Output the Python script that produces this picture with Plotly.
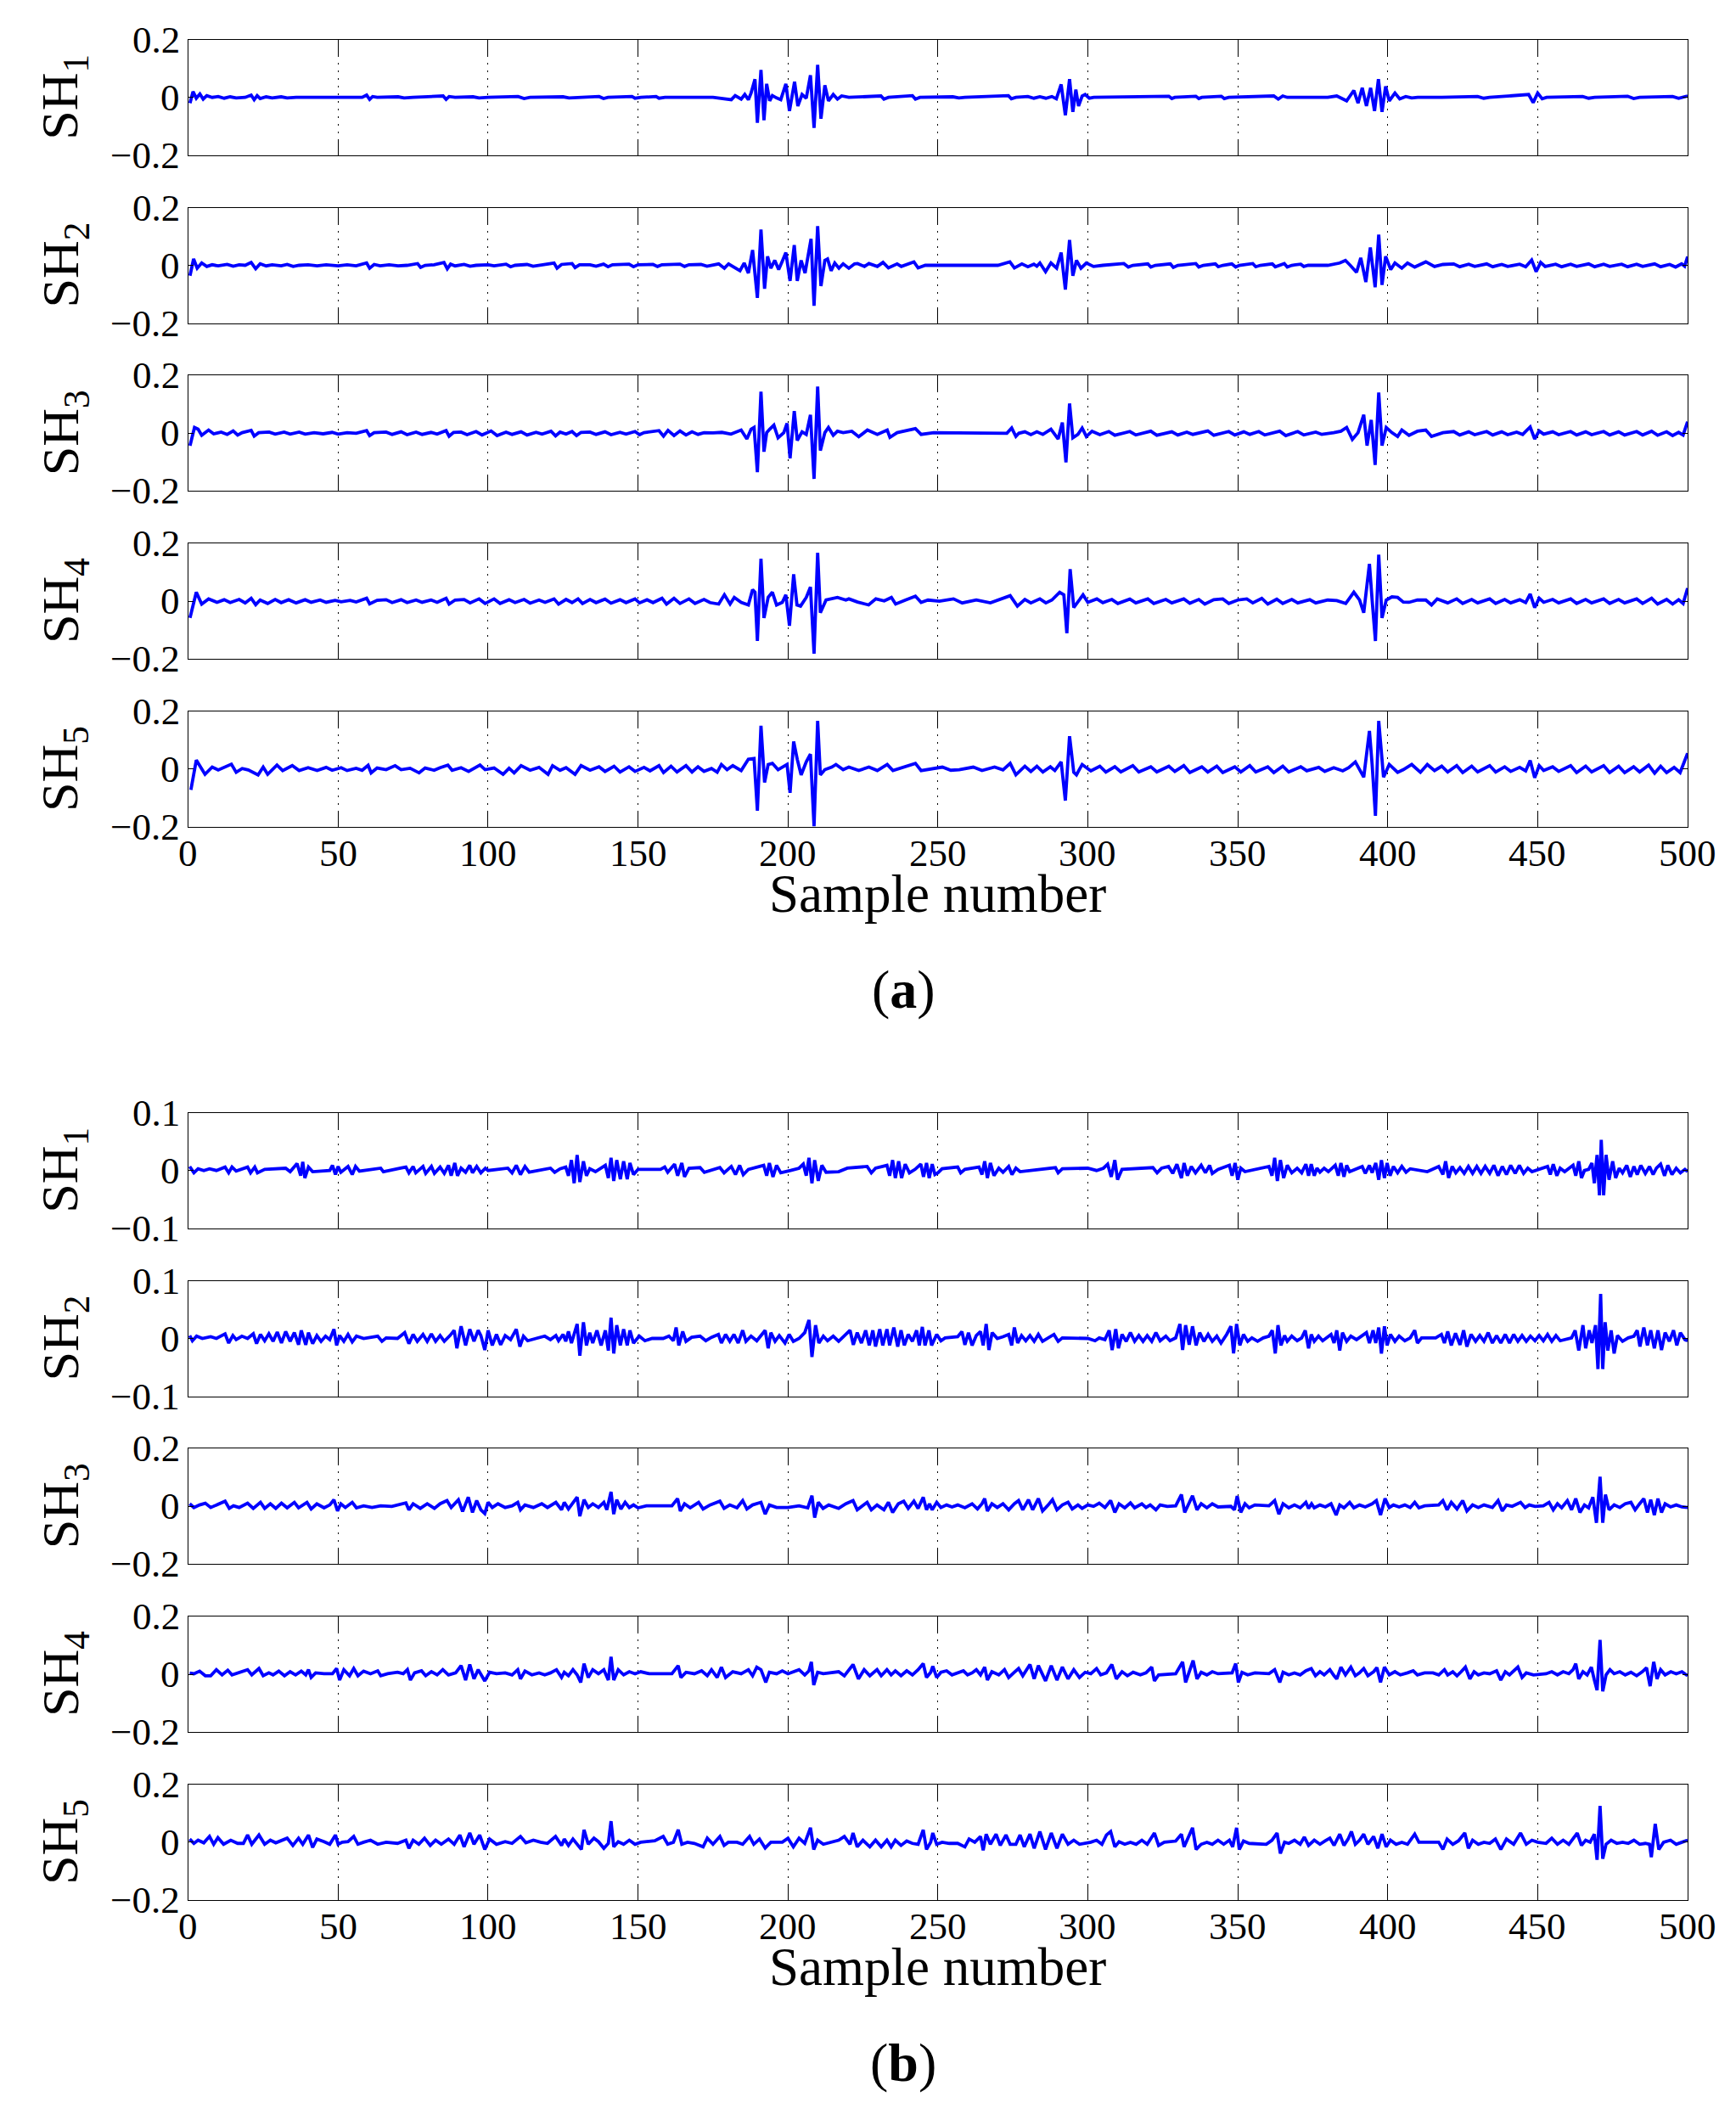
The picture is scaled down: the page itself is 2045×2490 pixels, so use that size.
import plotly.graph_objects as go

# ---------------- data (sample number, value x 1000) ----------------
SH1_a = [(0.6,-20),(1.6,20),(2.7,-3),(3.9,12),(5.0,-6),(6.2,6),(8,0),(10,3),(12,-3),(14,2),(16,-2),(19,0),(21,8),(22,-8),(23,6),(24,-4),(26,2),(28,-2),(31,2),(33,-2),(36,0),(58,0),(59.5,8),(60.5,-7),(61.5,3),(63,0),(70,2),(72,-2),(75,0),(85,5),(86,-7),(87,3),(89,0),(95,2),(97,-2),(100,0),(110,3),(112,-4),(114,0),(125,2),(127,-2),(137,3),(138.5,-4),(140,0),(148,3),(149,-3),(151,0),(156,3),(157,-3),(159,0),(175,0),(181.1,-8),(182.4,6),(183.5,0),(184.4,-6),(185.6,10),(186.8,-8),(187.7,15),(189.0,63),(189.8,-88),(191.0,95),(192.0,-79),(192.9,47),(193.9,-12),(194.8,6),(196.2,-2),(197.6,-8),(199.3,47),(200.5,-47),(202.2,54),(203.3,-30),(204.7,10),(206.1,-3),(207.5,77),(208.7,-106),(209.9,113),(211.0,-74),(212.3,42),(213.5,-12),(215.1,10),(216.5,-6),(217.9,5),(220.3,0),(231,5),(232,-6),(233.5,0),(241.5,6),(242.5,-6),(244,0),(255,2),(257,-2),(259,0),(273.5,6),(274.5,-5),(276,0),(280,3),(282,-3),(284,2),(286,-3),(288,3),(289.5,-5),(291.1,45),(292.5,-62),(293.9,63),(295.0,-50),(296.0,27),(296.9,-30),(298.1,5),(299.1,10),(300.5,-3),(302,0),(327,4),(328,-4),(329,0),(336,4),(337,-4),(338,0),(344.5,4),(345.5,-4),(347,0),(362,5),(363.5,-6),(365,5),(366.5,0),(380,0),(383,5),(384.5,-3),(386.3,-12),(388.7,24),(390.1,-20),(391.5,33),(392.9,-30),(394.3,33),(395.6,-47),(396.9,63),(398.1,-50),(399.3,38),(400.5,-12),(402.4,15),(404,-5),(406,3),(408,-2),(410,0),(418,0),(430,3),(432,-3),(434,0),(447,10),(448.5,-18),(450,15),(451.5,-5),(453,0),(465,3),(467,-3),(469,0),(480,4),(482,-4),(484,0),(495,3),(497,-3),(500,5)]

SH2_a = [(0.6,-36),(1.8,22),(3.0,-10),(4.5,8),(6.2,-4),(8,2),(10,-2),(13,3),(15,-3),(17,2),(19,0),(21,10),(22.5,-12),(24,5),(26,-2),(28,2),(31,-2),(33,3),(35,-4),(37,0),(40,2),(43,-2),(46,2),(50,-2),(53,2),(56,-2),(59.5,8),(60.5,-10),(62,3),(64,-2),(67,2),(70,-2),(73,0),(76.5,6),(77.5,-7),(79,0),(82,2),(85.3,10),(86.4,-12),(87.5,4),(89,-2),(92,3),(94,-3),(96,0),(100,2),(102,-2),(106,4),(107.5,-5),(109,0),(113,3),(115,-3),(117,0),(122,8),(123,-10),(124.5,3),(128,6),(129,-8),(130.5,2),(134,2),(136,-3),(138.5,4),(140,-5),(141.5,2),(147,4),(148.5,-5),(150,2),(155,3),(156.5,-4),(158,2),(164,4),(165.5,-4),(167,2),(171,3),(173,-3),(175,2),(176.9,5),(178.8,-10),(180.2,5),(181.6,-4),(184.0,-19),(185.4,8),(186.8,-27),(188.2,53),(189.8,-113),(191.0,124),(192.2,-81),(193.2,31),(194.3,-10),(195.6,17),(196.9,-15),(198.1,14),(199.3,44),(200.7,-54),(202.1,70),(203.1,-54),(204.4,17),(205.7,-27),(206.8,35),(207.7,92),(208.7,-140),(209.9,136),(211.0,-72),(212.3,17),(213.2,22),(214.4,-19),(215.6,8),(217.0,-10),(218.4,5),(220.3,-10),(222.2,5),(223.2,6),(225.5,-4),(227,6),(229.8,-4),(231.7,10),(233.5,-9),(236.4,5),(237.8,-4),(242,12),(243.4,-9),(245.8,0),(270,0),(274,12),(275.5,-9),(277,0),(278,5),(280,-5),(282,4),(283,-3),(284.0,8),(285.9,-22),(287.7,8),(289.6,-10),(291.1,44),(292.5,-84),(293.9,88),(295.0,-36),(296.2,17),(297.7,-10),(299.5,8),(301.9,-4),(305,0),(312,6),(313.5,-6),(315,0),(320,5),(321,-6),(322.5,0),(327.5,5),(328.5,-7),(330,0),(336,6),(337,-6),(338.5,0),(342.5,5),(343.5,-5),(345,0),(348,5),(349.3,-6),(350.5,0),(355,6),(356,-5),(357.5,0),(361.5,5),(362.5,-5),(364,0),(365.5,6),(366.5,-6),(368,0),(371,4),(372,-4),(373.5,0),(380,0),(384.0,8),(385.9,17),(387.5,0),(389.6,-24),(391.0,26),(392.7,-58),(394.2,62),(395.8,-76),(397.0,106),(398.1,-68),(399.3,31),(401.0,-15),(402.4,8),(404.7,-10),(406.6,8),(409.0,-6),(412.7,12),(415.6,-4),(418.4,3),(422,5),(424,-5),(427,4),(429,-4),(433,5),(435,-5),(438,3),(440,-4),(444,4),(446,-5),(448,18),(449.5,-22),(451,10),(452.5,-4),(456,4),(458,-5),(461,4),(463,-4),(467,5),(469,-5),(472,4),(474,-4),(478,4),(480,-5),(483,4),(485,-4),(489,5),(491,-5),(494,3),(496,-6),(498,5),(499,-3),(500,30)]

SH3_a = [(0.6,-43),(2.1,20),(3.3,14),(4.5,-7),(6.8,11),(8.5,-2),(11,4),(13,-4),(15,8),(16.5,-6),(18,2),(21,10),(22,-10),(23.5,2),(27,4),(29,-3),(32,4),(34,-3),(37,4),(39,-3),(42,2),(45,-2),(48,3),(50,-3),(53,2),(56,0),(59.5,9),(60.5,-8),(62,2),(66,4),(68,-4),(71,5),(73,-5),(76,4),(78,-4),(81,3),(83,-3),(86,9),(87,-10),(88.5,3),(91,4),(93,-5),(96,6),(98,-6),(101,8),(103,-8),(106,4),(108,-4),(111,5),(113,-6),(116,3),(118,-3),(121,7),(122.5,-9),(124,4),(126,-3),(128,6),(129.5,-8),(131,3),(134,4),(136,-4),(139,5),(141,-5),(144,3),(146,-3),(149,6),(150.5,-5),(152,2),(157,9),(158.5,-10),(160,10),(162,-8),(164,8),(166,-6),(168,5),(170,-4),(172,2),(175,1),(178,3),(181,-3),(184.4,11),(186.3,-20),(187.7,14),(188.7,20),(189.8,-135),(191.0,144),(192.0,-64),(192.9,2),(193.9,14),(195.3,28),(196.7,-16),(198.6,2),(199.7,34),(200.7,-87),(202.1,77),(203.1,-25),(204.7,5),(206.1,-4),(207.5,64),(208.7,-158),(209.9,162),(210.8,-60),(212.3,2),(213.5,20),(215.1,-7),(216.5,7),(218.4,2),(221.3,7),(223.6,-12),(226.5,11),(229.8,-4),(233.1,11),(234,-14),(236.4,2),(242.5,16),(244.4,-4),(248.6,2),(273,0),(274.6,18),(276,-11),(277,0),(279,5),(281,-5),(283,5),(285,-4),(287.7,14),(290.1,-20),(291.5,37),(292.7,-101),(293.9,103),(295.0,-16),(296.7,-4),(298.1,18),(299.5,-11),(301.4,7),(304,-5),(307,6),(309,-7),(314,6),(316,-6),(321,7),(323,-7),(328,5),(330,-6),(333,4),(335,-4),(340,8),(342,-7),(347,6),(349,-6),(352,5),(354,-4),(357,6),(359,-6),(364,7),(366,-8),(370,6),(372,-6),(376,4),(378,-4),(382,2),(384.4,7),(386.3,20),(388.2,-21),(390.1,2),(392.0,64),(393.1,-43),(394.5,46),(395.8,-110),(397.0,141),(398.1,-43),(399.5,20),(401.4,2),(403.3,-11),(404.7,11),(407.1,-7),(409.9,7),(412.7,11),(414.6,-11),(418.4,2),(422,6),(424,-6),(427,5),(429,-5),(433,6),(435,-6),(438,5),(440,-5),(443,4),(445,-4),(447.5,22),(449,-20),(450.5,8),(452,-3),(455,5),(457,-5),(461,6),(463,-6),(466,5),(468,-5),(472,6),(474,-6),(477,5),(479,-6),(483,6),(485,-6),(488,7),(490,-7),(493,5),(495,-8),(497,3),(498.5,-6),(500,40)]

SH4_a = [(0.6,-58),(2.7,31),(4.5,-10),(6.8,8),(9.6,-4),(12,5),(14,-5),(17,6),(19,-6),(21,10),(22.5,-12),(24,4),(26.5,-8),(29,6),(31,-5),(33.5,5),(36,-6),(39,5),(41,-4),(44,4),(46,-4),(49,3),(51,-2),(54,3),(56,-3),(59.5,10),(60.5,-9),(63,3),(66,5),(68,-5),(71,5),(73,-5),(76,4),(78,-4),(81,4),(83,-4),(86,10),(87,-10),(89,4),(92,6),(94,-6),(97,8),(99,-8),(102,8),(104,-8),(107,5),(109,-5),(112,6),(114,-7),(117,4),(119,-4),(122,8),(123.5,-10),(126,6),(128,-5),(130,8),(131.5,-8),(134,6),(136,-5),(139,7),(141,-7),(144,5),(146,-5),(149,8),(150.5,-6),(153,5),(155,-5),(158,10),(159.5,-10),(162,10),(164,-8),(167,8),(169,-8),(172,6),(174,-5),(176.9,-10),(178.8,22),(180.7,-10),(182.1,13),(184.4,-4),(186.8,-13),(188.2,40),(189.0,31),(189.8,-138),(191.0,147),(192.0,-58),(193.4,13),(194.8,31),(196.2,-13),(198.1,-4),(199.3,22),(200.5,-85),(201.9,93),(203.0,-13),(204.2,-17),(206.1,13),(207.5,49),(208.7,-182),(209.9,168),(210.8,-40),(212.7,4),(214.6,8),(216.5,13),(219.3,4),(220.3,8),(223.2,-3),(226.9,-13),(229.3,8),(232.1,1),(234.5,13),(235.9,-10),(239.2,4),(242.5,17),(244.4,-4),(246.7,4),(250.5,0),(255.2,8),(258.1,-6),(262.8,4),(267.5,-6),(270.3,4),(274.1,19),(276.5,-17),(279,6),(281,-6),(284,8),(286,-6),(288,4),(290.6,31),(292.0,22),(293.0,-111),(294.1,111),(295.3,-22),(296.7,-4),(298.4,22),(300.0,-4),(303,8),(305,-5),(308,6),(310,-8),(314,7),(316,-6),(320,8),(322,-8),(326,6),(328,-6),(332,8),(334,-7),(337,6),(339,-10),(342,5),(345,8),(347,-8),(350,4),(353,8),(355,-6),(358,10),(360,-10),(363,7),(365,-8),(368,6),(370,-6),(374,5),(376,-6),(380,4),(383,2),(386,-8),(388.7,31),(390.6,4),(392.0,-40),(393.9,129),(394.8,4),(395.9,-138),(397.0,161),(398.1,-58),(399.5,4),(401.4,15),(403.3,13),(405.2,-3),(407.1,-4),(409.9,4),(412.7,4),(414.6,-13),(416.5,8),(420,-6),(423,8),(425,-8),(428,6),(430,-6),(434,8),(436,-8),(439,6),(441,-6),(444,5),(446,-5),(447.5,25),(449,-22),(450.5,10),(452,-4),(455,6),(457,-6),(461,8),(463,-8),(466,6),(468,-6),(472,8),(474,-8),(477,6),(479,-6),(483,8),(485,-8),(488,10),(490,-10),(493,6),(495,-10),(497,5),(498.5,-8),(500,45)]

SH5_a = [(0.9,-72),(2.7,31),(5.6,-18),(8,7),(10,-3),(12,7),(14.4,17),(16,-11),(18,2),(20,-3),(23.3,-20),(25,7),(26.5,-18),(29.6,14),(31.5,-5),(34.7,12),(37,-5),(40,5),(43,-5),(46,6),(48,-4),(51,5),(53,-5),(56,3),(58,-4),(60,13),(61,-13),(63,4),(66,-2),(69,12),(71,-2),(74,3),(77,-13),(79,4),(82,-4),(84,5),(86.6,14),(88,-4),(91,5),(93.5,-8),(97.3,14),(99,-2),(102,4),(105,-18),(107,3),(108.7,-13),(111,12),(114,-4),(117,6),(120,-18),(121.5,12),(124,-4),(126,5),(129,-18),(131,12),(134,-4),(137,8),(139,-8),(142,10),(144,-10),(147,8),(149,-8),(152,6),(154,-6),(157,12),(158.5,-12),(161,10),(163,-10),(166,12),(168,-10),(170,8),(172,-8),(174.5,2),(176.4,-11),(177.8,16),(179.7,-2),(181.6,12),(184.4,-5),(186.8,34),(188.7,37),(189.8,-144),(191.0,150),(192.2,-46),(193.4,16),(194.8,20),(196.7,-2),(199.7,16),(200.7,-82),(201.9,96),(203.1,34),(204.4,-20),(206.1,25),(207.5,52),(208.7,-198),(209.9,167),(210.8,-20),(212.3,-2),(214.6,7),(216.0,16),(218.4,-2),(220.3,7),(223.6,-5),(227,7),(229.8,-5),(233.1,16),(235,-5),(238.3,7),(242.5,20),(244.4,-5),(248.6,2),(251.5,7),(254.3,-4),(257.1,-2),(261.8,7),(264.7,-5),(268.9,7),(271.7,-3),(274.1,20),(276,-20),(279,10),(281,-8),(283,10),(285,-10),(287.5,8),(289,-5),(291.1,25),(292.5,-109),(293.9,114),(295.3,-11),(296.2,-20),(298.1,16),(301,-6),(304,10),(306,-10),(309,8),(311,-10),(315,12),(317,-10),(321,8),(323,-10),(327,10),(329,-8),(332,12),(334,-12),(338,8),(340,-10),(343,10),(345,-12),(349,8),(351,-10),(354,12),(356,-10),(360,8),(362,-12),(365,10),(367,-10),(371,8),(373,-6),(377,6),(379,-8),(382,5),(385,-6),(387,5),(389.2,25),(392.0,-28),(393.9,132),(394.8,16),(395.9,-162),(397.0,167),(398.6,-28),(400.5,16),(403.3,-11),(405.2,-2),(408.0,16),(410.9,-11),(413.2,16),(415.6,-5),(418,10),(420,-10),(423,12),(425,-12),(428,10),(430,-10),(434,12),(436,-10),(439,8),(441,-8),(444,6),(446,-6),(447.5,30),(449,-30),(450.5,12),(452,-5),(455,8),(457,-8),(461,12),(463,-12),(466,10),(468,-10),(472,12),(474,-12),(477,10),(479,-12),(482,8),(484,-10),(487,14),(489,-14),(491,10),(493,-12),(495.5,6),(497.5,-12),(500,55)]

SH1_b = [(0.5,7),(1.9,-4),(3.3,3),(5.2,0),(7.1,3),(9.4,0),(12.3,6),(13.5,-4),(14.6,6),(16.0,-1),(19.8,6),(20.8,-4),(22.2,6),(23.1,-4),(25.5,2),(32.5,4),(34.0,-2),(36.3,12),(37.5,-9),(38.2,15),(38.9,-13),(40.1,6),(41.5,-2),(47.2,0),(48.1,9),(49.1,-7),(50.0,7),(50.9,-3),(53.3,7),(54.7,-7),(55.8,7),(57.1,-1),(64.2,4),(65.1,-2),(70.8,4),(72.6,6),(73.6,-4),(75.0,7),(75.9,-4),(78.3,7),(79.2,-5),(81.1,7),(82.1,-5),(84.0,6),(85.4,-5),(86.8,9),(87.7,-9),(88.9,13),(89.8,-9),(91.0,4),(92.5,-3),(93.9,9),(94.8,-4),(96.2,7),(97.6,-4),(99.1,4),(100.0,0),(106.6,4),(108.0,-4),(109.4,9),(110.8,-7),(112.3,7),(113.7,-3),(120.8,4),(122.2,-3),(124.0,3),(125.9,6),(126.8,-9),(127.8,18),(128.7,-22),(129.7,27),(130.6,-20),(131.8,16),(132.8,-9),(133.9,3),(135.8,-2),(139.1,9),(140.1,-13),(141.0,22),(141.9,-18),(142.9,18),(144.1,-15),(145.2,16),(146.4,-15),(147.3,13),(148.5,-7),(150.0,2),(157.5,2),(158.9,6),(159.9,-3),(162.2,11),(163.2,-9),(164.6,13),(165.5,-11),(167.0,4),(170.7,5),(172.1,-3),(177.3,5),(178.7,-4),(181.1,7),(182.5,-7),(183.9,9),(185.1,-7),(186.8,2),(191.9,9),(192.9,-9),(193.8,13),(195.0,-11),(196.2,9),(197.6,-4),(200.9,0),(203.7,4),(205.1,11),(206.1,-9),(207.0,22),(208.0,-22),(208.9,18),(210.1,-18),(211.3,9),(212.7,-3),(216.9,-2),(219.8,4),(226.4,7),(227.8,-4),(229.2,4),(233.0,9),(233.9,-9),(234.9,18),(235.8,-13),(236.9,16),(237.9,-13),(239.1,11),(240.5,-4),(242.4,2),(244.3,11),(245.2,-11),(246.2,13),(247.1,-13),(248.1,11),(249.0,-7),(250.0,-4),(251.4,3),(256.6,6),(257.6,-4),(259.0,2),(263.7,6),(264.7,-7),(265.6,16),(266.5,-13),(267.5,13),(268.7,-9),(270.3,4),(271.7,-3),(273.6,7),(274.7,-7),(276.0,4),(277.4,-2),(289.2,5),(290.1,-4),(291.5,3),(300.0,4),(302.9,0),(305.2,4),(306.6,11),(307.8,-11),(309.0,18),(309.9,-16),(311.4,2),(321.7,5),(323.1,-4),(324.6,4),(326.9,7),(328.3,-5),(329.7,11),(331.2,-13),(332.1,13),(333.2,-9),(334.5,7),(335.9,-4),(337.8,9),(339.2,-4),(340.6,9),(341.5,-5),(343.4,2),(347.2,9),(348.1,-9),(349.1,13),(350.0,-16),(351.0,4),(352.4,-2),(360.4,7),(361.4,-9),(362.3,22),(363.2,-18),(364.2,18),(365.3,-13),(366.5,9),(368.0,-4),(369.8,4),(371.3,-4),(372.7,11),(373.6,-9),(374.5,11),(375.5,-9),(376.4,4),(377.4,-3),(378.8,4),(380.2,-2),(382.5,9),(383.5,-9),(384.4,13),(385.4,-11),(386.3,9),(387.3,-2),(391.5,7),(392.5,-5),(393.9,9),(394.8,-4),(396.0,13),(397.0,-16),(397.9,18),(398.9,-13),(399.8,13),(400.8,-9),(401.9,7),(403.3,-4),(404.7,7),(406.1,-3),(407.5,3),(413.2,-2),(417.0,7),(418.4,-7),(419.3,16),(420.3,-13),(421.5,7),(422.7,-4),(424.1,5),(425.5,-5),(426.9,7),(428.3,-5),(429.7,7),(431.1,-5),(432.5,7),(434.0,-5),(435.4,9),(436.8,-9),(438.2,7),(439.6,-7),(441.0,9),(442.5,-5),(443.9,9),(445.3,-5),(446.7,4),(448.1,-2),(453.3,7),(454.2,-7),(455.2,11),(456.4,-9),(457.5,4),(459.0,-2),(461.8,9),(462.7,-9),(463.7,16),(464.6,-13),(465.6,0),(467.0,2),(468.1,13),(468.9,-22),(469.8,27),(470.6,-43),(471.2,53),(472.0,-43),(472.8,27),(473.8,-16),(475.0,16),(476.0,-13),(477.2,4),(478.3,-4),(479.7,9),(480.9,-11),(482.1,7),(483.2,-7),(484.4,9),(485.9,-5),(487.3,7),(488.5,-7),(489.6,4),(491.0,11),(492.3,-9),(493.4,9),(494.8,-7),(496.2,4),(497.6,-4),(499.1,2),(500.0,-2)]

SH2_b = [(0.5,5),(1.4,-4),(2.8,4),(4.7,0),(7.5,3),(9.4,0),(12.3,8),(13.5,-8),(14.9,5),(16.0,-2),(17.9,4),(19.8,0),(21.7,8),(22.8,-9),(24.1,7),(25.5,-4),(26.9,8),(28.3,-5),(29.7,11),(31.1,-8),(32.5,12),(34.0,-5),(35.4,10),(36.8,-11),(37.7,14),(39.2,-11),(40.1,10),(41.5,-9),(42.9,5),(44.3,-5),(45.8,4),(47.2,-2),(48.6,16),(49.5,-12),(50.5,5),(51.9,-5),(53.3,7),(54.7,-6),(56.1,4),(58.5,0),(63.2,4),(64.6,-5),(66.0,1),(69.8,0),(72.2,10),(73.6,-9),(75.0,7),(76.4,-5),(78.3,7),(79.7,-5),(81.1,8),(82.5,-5),(84.0,5),(85.4,-5),(87.3,5),(88.7,14),(89.6,-17),(91.0,21),(92.5,-12),(93.9,16),(95.3,-5),(96.7,14),(97.6,5),(98.9,-20),(100.0,14),(101.4,-12),(102.8,7),(104.2,-11),(105.7,5),(107.5,-2),(109.4,16),(110.6,-14),(111.8,4),(113.2,-4),(116.0,0),(118.9,4),(120.8,-2),(122.6,5),(123.5,-4),(125.0,7),(125.9,-5),(126.8,12),(127.8,-8),(128.7,7),(129.7,25),(130.6,-30),(131.8,28),(132.8,-12),(133.9,10),(134.9,-8),(136.3,14),(137.7,-12),(139.1,14),(140.1,-21),(141.0,36),(141.9,-26),(142.9,23),(144.1,-12),(145.2,16),(146.4,-12),(147.3,14),(148.5,-8),(150.4,4),(152.3,-4),(154.7,0),(158.4,0),(160.3,4),(161.8,-4),(162.7,19),(163.6,-12),(164.9,12),(166.0,-5),(167.9,2),(170.7,4),(172.6,-4),(174.5,2),(176.8,7),(177.8,-8),(179.2,7),(180.6,-5),(182.0,7),(183.4,-8),(184.9,14),(186.0,-5),(187.7,4),(189.6,-4),(192.4,14),(193.4,-17),(194.3,10),(195.7,-5),(197.1,5),(199.0,-8),(200.4,7),(201.8,-5),(203.7,0),(205.6,10),(207.0,32),(208.0,-32),(209.2,23),(210.3,-8),(211.8,4),(213.2,-4),(215.1,4),(216.9,-5),(218.8,4),(220.7,14),(221.8,-11),(223.1,10),(224.5,-8),(225.9,14),(227.1,-12),(228.3,14),(229.2,-14),(230.6,16),(231.6,-12),(233.0,16),(233.9,-12),(235.3,19),(236.6,-14),(237.7,14),(238.8,-12),(240.1,7),(241.5,-5),(242.9,14),(243.8,-12),(244.8,20),(245.7,-12),(247.0,14),(247.9,-12),(249.6,7),(251.0,-4),(252.4,1),(256.6,3),(258.0,12),(259.0,-11),(260.2,10),(261.4,-12),(262.8,5),(264.2,12),(265.1,-12),(266.1,25),(267.0,-20),(268.1,10),(269.8,0),(271.7,3),(273.6,7),(274.6,-12),(275.5,19),(276.6,-8),(277.9,5),(279.3,-4),(280.7,5),(282.1,-5),(283.5,7),(284.9,-5),(286.8,1),(288.7,7),(290.1,-5),(291.5,1),(300.0,0),(302.4,-4),(303.8,1),(305.7,-2),(307.1,14),(308.1,-20),(309.3,16),(310.2,-17),(311.4,7),(312.8,-5),(314.2,10),(315.6,-5),(317.0,5),(318.4,-5),(319.8,5),(321.3,-5),(322.7,10),(324.1,-4),(326.0,4),(327.4,-4),(329.3,1),(330.7,25),(331.6,-20),(332.6,23),(333.8,-11),(334.9,21),(336.1,-12),(337.3,10),(338.7,-5),(340.1,7),(341.5,-5),(343.0,4),(344.4,-8),(346.3,7),(347.7,21),(348.6,-26),(349.6,25),(350.7,-12),(351.9,7),(353.3,-5),(354.7,1),(356.6,-5),(358.5,1),(360.4,4),(361.5,14),(362.5,-26),(363.4,23),(364.4,-12),(365.6,5),(366.5,-5),(368.0,4),(369.8,-4),(371.3,1),(372.5,14),(373.6,-17),(374.5,7),(375.5,-5),(376.9,4),(378.3,-4),(379.7,1),(381.1,7),(382.1,-8),(383.0,14),(384.0,-21),(384.9,10),(386.3,-5),(387.7,4),(389.6,-2),(392.9,10),(393.9,-8),(395.1,14),(396.0,-8),(397.0,19),(397.9,-26),(398.9,21),(399.8,-12),(400.9,7),(402.4,-5),(403.8,4),(405.7,-4),(407.5,1),(409.0,14),(409.9,-8),(411.3,1),(416.0,1),(417.9,7),(418.9,-8),(420.0,12),(421.2,-12),(422.6,9),(424.1,-11),(425.3,14),(426.4,-14),(427.8,7),(429.3,-5),(430.7,5),(432.1,-5),(433.5,10),(434.9,-8),(436.3,5),(437.7,-8),(439.2,7),(440.6,-8),(442.0,7),(443.4,-5),(444.8,5),(446.2,-5),(447.6,4),(449.1,-4),(450.5,5),(451.9,-4),(453.3,7),(454.7,-5),(456.1,5),(457.5,-4),(461.3,1),(462.5,14),(463.7,-21),(465.1,23),(466.0,-17),(467.2,14),(468.1,-8),(469.3,23),(470.1,-53),(471.0,77),(471.7,-53),(472.5,28),(473.4,-21),(474.5,14),(475.5,-26),(476.6,5),(478.3,-5),(480.2,1),(482.1,4),(483.2,14),(484.1,-14),(485.4,19),(486.6,-12),(487.7,14),(488.9,-17),(490.1,14),(491.3,-20),(492.5,10),(493.9,-5),(495.3,14),(496.4,-12),(497.6,10),(499.1,-2),(500.0,-4)]

SH3_b = [(0.5,9),(1.9,-4),(3.8,5),(5.7,11),(7.5,-4),(9.4,5),(12.3,18),(13.7,-7),(15.1,2),(17.0,-4),(19.8,11),(21.7,-7),(24.1,14),(25.5,-7),(27.4,9),(29.2,-7),(31.1,11),(33.0,-5),(35.4,14),(36.8,-5),(39.6,14),(41.0,-9),(42.9,9),(45.3,-5),(47.2,5),(48.6,23),(49.8,-16),(50.9,9),(52.4,-4),(54.7,14),(56.1,-5),(58.5,2),(61.3,-4),(64.2,2),(67.9,0),(72.6,12),(73.6,-12),(75.0,9),(77.4,-7),(79.7,9),(82.1,-7),(84.0,9),(86.3,20),(87.7,-4),(90.1,23),(91.5,-18),(93.4,32),(94.8,-21),(96.2,20),(97.6,-12),(98.9,-25),(100.0,14),(101.4,-4),(103.3,9),(105.7,-4),(108.0,2),(109.9,14),(110.8,-12),(112.3,5),(115.1,-4),(117.9,9),(119.8,-4),(122.6,14),(124.5,-12),(125.4,14),(126.8,-9),(128.3,14),(129.7,32),(130.6,-34),(132.0,23),(133.4,-4),(134.9,9),(136.8,-4),(138.6,14),(139.6,-12),(141.0,50),(141.9,-27),(142.9,23),(144.3,-9),(145.7,14),(147.1,-4),(148.5,5),(150.0,-5),(152.8,2),(161.3,2),(163.2,27),(164.1,-16),(165.5,9),(167.4,-5),(170.2,14),(171.7,-9),(174.0,5),(177.3,18),(178.7,-7),(180.6,5),(183.0,-5),(184.9,20),(186.3,-9),(188.2,5),(191.0,14),(192.4,-27),(193.8,5),(196.2,-4),(200.0,-4),(203.7,2),(206.6,-5),(208.0,37),(208.9,-39),(210.1,14),(211.7,-7),(213.6,5),(216.9,-7),(219.3,9),(221.7,20),(223.1,-12),(225.0,2),(226.4,14),(227.8,-12),(229.7,5),(232.0,-12),(233.5,14),(234.9,-21),(236.8,9),(238.6,18),(240.1,-7),(242.0,18),(243.4,-7),(245.1,32),(246.2,-12),(247.2,9),(248.1,-12),(249.6,14),(251.0,-4),(252.9,5),(254.7,-2),(256.6,5),(259.0,-5),(261.4,9),(263.2,-9),(264.7,9),(265.6,27),(266.5,-16),(268.0,9),(269.8,-4),(271.7,9),(273.6,-12),(275.5,9),(276.9,20),(278.3,-12),(280.2,23),(281.6,-12),(283.5,27),(284.9,-16),(286.8,5),(288.2,23),(289.7,-12),(291.5,5),(293.4,14),(294.8,-9),(296.7,5),(298.1,-7),(300.0,5),(301.9,0),(303.8,11),(305.7,-4),(307.6,20),(309.0,-21),(310.4,9),(312.3,-5),(314.2,12),(315.6,-5),(318.0,9),(319.4,-4),(320.8,5),(322.7,-12),(324.1,5),(326.5,0),(329.3,2),(331.2,41),(332.3,-21),(333.5,5),(334.9,37),(336.4,-12),(337.8,9),(339.7,-5),(341.5,9),(343.4,-2),(347.7,0),(348.9,-12),(349.8,36),(351.0,-21),(352.4,9),(353.8,-5),(355.7,5),(360.4,2),(362.3,20),(363.7,-27),(365.1,9),(367.0,-5),(368.9,5),(370.8,-5),(372.7,14),(373.6,-7),(374.6,9),(375.5,-5),(377.4,5),(379.2,-2),(381.1,9),(382.8,-30),(384.0,5),(385.4,-5),(387.3,14),(388.7,-5),(390.6,5),(392.5,-2),(394.8,9),(396.2,20),(397.6,-30),(399.1,27),(400.5,-4),(401.9,5),(403.8,-2),(405.7,5),(407.5,-4),(409.0,14),(410.4,-5),(412.3,2),(417.0,5),(418.4,20),(419.8,-12),(421.2,14),(423.1,-9),(425.0,20),(426.4,-16),(428.3,5),(430.2,-4),(432.1,5),(434.9,-4),(436.8,20),(438.2,-16),(439.6,5),(441.5,0),(444.3,14),(445.8,-4),(447.2,5),(449.1,0),(451.9,2),(453.8,14),(455.2,-12),(456.6,9),(458.0,-5),(459.9,20),(461.3,-12),(462.7,27),(464.1,-21),(465.6,5),(467.0,-5),(468.4,32),(469.6,-57),(470.8,103),(471.7,-57),(472.6,41),(473.8,-12),(475.5,5),(477.4,-4),(479.2,9),(481.1,14),(482.5,-12),(484.0,9),(485.4,27),(486.6,-21),(487.7,23),(488.9,-30),(490.1,27),(491.3,-21),(492.5,9),(494.3,-2),(496.2,5),(498.1,-2),(500.0,-4)]

SH4_b = [(0.5,4),(1.9,2),(3.8,11),(5.7,-5),(7.5,-5),(9.4,16),(11.3,-2),(13.2,14),(14.6,-2),(17.0,5),(19.8,16),(21.2,-2),(23.6,20),(25.0,-5),(26.9,5),(28.3,-2),(30.2,11),(32.1,-5),(34.0,9),(35.8,-2),(37.7,11),(39.2,-2),(40.1,16),(41.0,-11),(42.5,5),(45.3,2),(48.1,2),(49.5,20),(50.5,-20),(51.9,16),(53.8,-5),(55.2,20),(56.6,-5),(58.5,11),(60.8,2),(63.2,12),(64.2,-5),(66.5,2),(69.8,7),(71.7,2),(73.1,16),(74.1,-20),(75.5,5),(77.8,12),(79.2,-5),(81.1,9),(83.0,-2),(84.9,16),(86.8,-2),(89.2,5),(91.0,30),(92.5,-20),(93.9,34),(95.3,-16),(96.7,16),(98.9,-23),(100.5,7),(102.8,2),(105.7,5),(108.0,-2),(109.9,16),(110.8,-16),(112.3,11),(114.6,-2),(117.0,5),(118.9,-2),(120.8,5),(122.8,16),(124.5,-11),(125.4,7),(126.8,-5),(128.3,16),(129.7,-2),(130.9,-28),(132.0,37),(133.4,-11),(134.9,16),(136.8,2),(138.6,16),(140.1,-20),(141.0,61),(141.9,-20),(143.4,16),(145.2,-2),(147.1,9),(149.0,2),(150.9,9),(153.7,2),(161.3,2),(163.4,30),(164.3,-11),(166.0,7),(168.8,2),(171.2,12),(173.1,-5),(174.5,16),(176.4,-11),(177.8,25),(179.2,-11),(181.6,9),(184.4,2),(186.8,16),(188.2,-5),(189.6,25),(191.0,16),(192.6,-28),(193.8,7),(196.2,2),(198.1,12),(200.0,2),(202.3,9),(203.7,16),(205.6,-2),(207.0,12),(207.8,43),(208.6,-37),(209.9,7),(211.8,2),(216.9,9),(218.8,-5),(221.7,34),(223.5,-16),(225.4,16),(227.3,-5),(229.7,16),(231.1,-5),(233.0,16),(234.4,-2),(235.8,12),(237.7,-5),(239.6,12),(241.5,-2),(243.4,16),(245.1,37),(246.2,-11),(247.6,7),(248.3,28),(249.6,-11),(251.0,7),(252.9,12),(254.7,-2),(256.6,5),(258.5,12),(259.9,-2),(261.4,5),(262.8,16),(264.2,-2),(265.6,25),(266.5,-20),(268.0,9),(270.3,-2),(272.2,16),(273.6,-11),(275.5,7),(276.9,20),(278.3,-5),(279.7,20),(280.7,34),(282.1,-16),(283.5,30),(285.9,-23),(287.8,30),(289.7,-20),(291.5,25),(293.4,-16),(295.3,16),(297.2,-11),(299.1,7),(301.0,2),(302.9,20),(304.3,-2),(306.2,5),(308.0,34),(309.5,-16),(311.4,9),(313.2,-5),(315.1,7),(317.5,-2),(319.4,5),(321.3,25),(322.2,-23),(323.6,-2),(329.3,2),(331.6,43),(332.6,-28),(334.0,16),(335.1,48),(336.4,-16),(337.8,7),(339.7,-2),(341.5,9),(343.4,2),(348.1,5),(349.3,37),(350.2,-28),(351.4,7),(353.3,-2),(355.7,5),(360.4,2),(362.3,16),(364.0,-28),(365.1,7),(367.0,-2),(368.9,5),(370.8,-2),(372.7,12),(374.5,20),(375.9,-5),(377.4,9),(378.8,-2),(380.7,16),(382.1,-5),(383.0,-16),(384.4,25),(385.9,-2),(387.7,25),(389.2,-5),(390.6,5),(392.0,20),(393.4,-5),(395.3,9),(396.4,23),(397.6,-28),(398.9,25),(400.5,-2),(402.4,9),(404.2,-2),(406.6,5),(408.5,12),(409.9,-2),(412.3,5),(415.1,5),(417.0,-2),(418.9,16),(420.0,-2),(421.7,9),(423.1,-5),(424.5,9),(425.9,25),(427.4,-16),(428.8,9),(430.2,-2),(432.1,5),(434.0,2),(436.3,12),(437.7,-20),(439.2,9),(440.6,-2),(443.4,25),(444.8,-11),(446.2,5),(448.6,-2),(452.8,2),(454.7,9),(456.6,-2),(458.5,9),(460.4,2),(461.8,16),(462.7,37),(463.7,-16),(465.1,9),(466.5,-2),(467.9,25),(468.9,-20),(469.8,-55),(470.8,119),(471.7,-59),(472.8,-2),(474.1,16),(475.5,2),(477.4,9),(479.2,-2),(481.1,7),(483.0,-5),(484.9,9),(486.3,23),(487.5,-41),(488.7,43),(489.8,-16),(491.0,16),(492.5,-2),(494.4,9),(496.2,2),(498.1,9),(500.0,-5)]

SH5_b = [(0.5,11),(1.9,-4),(3.3,7),(5.2,-2),(7.1,20),(8.5,-7),(9.9,16),(11.8,-7),(14.2,7),(16.5,-4),(18.4,-4),(19.8,25),(21.2,-7),(23.6,25),(25.5,-7),(27.4,7),(29.2,-2),(31.1,5),(33.0,14),(34.9,-11),(36.8,14),(38.2,-7),(40.1,25),(41.5,-18),(42.9,11),(45.3,2),(47.2,-7),(49.1,25),(50.0,-7),(51.4,0),(53.3,2),(55.2,20),(56.6,-7),(58.5,0),(60.8,7),(63.2,-7),(66.0,0),(69.8,-4),(72.6,7),(73.6,-21),(75.0,7),(76.9,-7),(78.8,14),(80.7,-11),(82.5,7),(84.4,-7),(86.8,11),(88.7,-7),(90.6,25),(92.0,-16),(93.9,32),(95.3,-7),(97.2,25),(98.9,-25),(100.5,11),(102.8,-7),(105.7,2),(108.0,-4),(110.8,20),(112.6,-2),(115.1,7),(117.5,0),(119.8,-4),(122.5,20),(124.5,-11),(125.4,11),(126.8,-11),(128.3,11),(129.7,-7),(131.1,-25),(132.0,43),(133.4,-7),(135.3,14),(136.8,2),(138.6,-21),(140.1,-4),(141.0,73),(141.9,-16),(143.4,2),(145.2,-7),(147.1,7),(149.0,-7),(150.9,0),(155.6,5),(158.4,20),(159.9,-7),(161.8,0),(163.4,43),(164.6,-7),(166.5,0),(168.8,-4),(171.7,-16),(173.1,14),(175.0,-7),(177.3,20),(178.7,-11),(180.1,0),(183.0,0),(184.9,-7),(187.2,20),(188.6,-7),(190.5,11),(192.4,-20),(194.3,0),(198.1,0),(200.0,14),(201.8,-16),(203.7,14),(205.6,-4),(207.5,50),(208.6,-25),(209.9,7),(211.8,-7),(214.1,0),(216.9,7),(218.8,20),(220.7,-7),(221.7,32),(223.1,-16),(225.0,7),(227.3,-16),(229.2,7),(231.1,-16),(233.0,7),(234.4,-16),(235.8,7),(237.7,-11),(239.6,4),(241.5,-4),(243.4,-7),(245.1,43),(246.2,-25),(247.6,0),(248.3,32),(249.6,-7),(251.4,0),(253.8,-4),(256.6,-4),(259.0,-16),(260.4,11),(262.3,0),(264.2,20),(265.1,-28),(266.1,28),(267.5,-7),(269.4,28),(270.8,-11),(272.7,25),(274.1,-7),(276.0,-7),(277.4,25),(278.8,-16),(280.7,28),(282.1,-21),(284.0,37),(285.9,-25),(287.8,32),(289.7,-21),(291.5,28),(293.4,-7),(295.3,7),(297.2,-7),(301.0,0),(302.9,7),(304.7,-7),(306.2,25),(307.6,37),(309.0,-16),(310.4,2),(312.3,-7),(314.2,0),(316.1,-7),(318.0,7),(319.8,-7),(322.2,32),(323.6,-11),(325.5,0),(329.3,4),(331.2,28),(332.1,-16),(333.5,20),(334.9,50),(336.1,-25),(337.8,-7),(339.7,0),(341.5,-7),(343.4,7),(345.3,-7),(347.2,7),(348.3,-16),(349.6,50),(350.5,-25),(351.9,4),(353.8,-4),(359.5,-7),(361.4,7),(363.1,32),(364.2,-39),(365.6,0),(367.0,-4),(368.9,7),(370.8,-7),(372.2,18),(373.6,-11),(375.5,7),(377.4,-7),(379.2,5),(380.7,14),(382.1,-11),(384.0,28),(385.4,-11),(386.8,11),(387.9,37),(389.2,-7),(390.6,7),(392.0,28),(393.4,-7),(395.3,20),(396.7,-21),(398.1,28),(399.5,-16),(400.9,7),(402.8,-7),(404.7,0),(406.6,-7),(409.0,28),(410.4,0),(417.0,0),(418.4,-25),(419.8,11),(421.7,-7),(423.6,5),(425.7,32),(426.9,-21),(428.3,7),(430.2,-7),(432.1,0),(434.0,-4),(435.9,11),(437.7,-25),(439.6,11),(442.0,-7),(444.3,32),(446.2,-7),(448.1,7),(450.0,0),(452.8,-4),(454.7,14),(456.6,-7),(458.5,7),(460.4,-7),(461.8,11),(463.2,32),(464.6,-11),(466.0,7),(467.5,0),(468.9,28),(469.8,-61),(470.8,126),(471.7,-57),(472.8,-7),(474.5,7),(476.4,-4),(478.3,0),(480.2,-4),(482.1,7),(484.0,-7),(485.9,-4),(487.3,-7),(487.9,-52),(489.2,64),(490.4,-25),(492.0,0),(494.3,7),(496.2,-7),(498.1,0),(500.0,7)]

SERIES_A = [SH1_a, SH2_a, SH3_a, SH4_a, SH5_a]
SERIES_B = [SH1_b, SH2_b, SH3_b, SH4_b, SH5_b]
Y_LIMITS_A = [0.2, 0.2, 0.2, 0.2, 0.2]
Y_LIMITS_B = [0.1, 0.1, 0.2, 0.2, 0.2]
X_TICKS = [0, 50, 100, 150, 200, 250, 300, 350, 400, 450, 500]
LABELS = ["1", "2", "3", "4", "5"]
X_TITLE = "Sample number"
PANEL_TAGS = ["a", "b"]

# ---------------- layout (target page pixels) ----------------
W, H = 2045, 2490
OFF = 8.0            # the page body offsets the figure by 8 px
X0, X1 = 221.7, 1988.0
PANEL_TOP = [46.7, 1310.7]
STEP = 197.8
PH = 136.0
FONT = "Liberation Serif"


def fx(px):
    return (px - OFF) / W


def fy(py):
    return 1 - (py - OFF) / H


fig = go.Figure()
layout = dict(width=W, height=H, autosize=False,
              margin=dict(l=0, r=0, t=0, b=0, pad=0, autoexpand=False),
              paper_bgcolor="white", plot_bgcolor="white", showlegend=False)
annotations = []


def fmt(v):
    if v == 0:
        return "0"
    s = ("%g" % abs(v))
    return ("\u2212" + s) if v < 0 else s


def txt(text, x, y, size, xref="paper", yref="paper", xanchor="center", yanchor="middle", angle=0):
    return dict(text=text, xref=xref, yref=yref, x=x, y=y, xanchor=xanchor,
                yanchor=yanchor, textangle=angle, showarrow=False,
                font=dict(family=FONT, size=size, color="black"))


k = 0
for p, (series_list, limits) in enumerate([(SERIES_A, Y_LIMITS_A), (SERIES_B, Y_LIMITS_B)]):
    for i in range(5):
        k += 1
        top = PANEL_TOP[p] + i * STEP
        bot = top + PH
        pts = series_list[i]
        xs = [q[0] for q in pts]
        ys = [q[1] / 1000.0 for q in pts]
        fig.add_trace(go.Scatter(x=xs, y=ys, mode="lines",
                                 line=dict(color="#0000ff", width=3.8),
                                 xaxis="x%d" % k, yaxis="y%d" % k,
                                 hoverinfo="skip", showlegend=False))
        lim = limits[i]
        yt = [-lim, 0, lim]
        layout["xaxis%d" % k] = dict(
            domain=[fx(X0), fx(X1)], anchor="y%d" % k, range=[0, 500],
            tickmode="array", tickvals=X_TICKS, showticklabels=False,
            ticks="inside", ticklen=18, tickwidth=1.2,
            tickcolor="black", mirror="allticks", showline=True, linewidth=1.3,
            linecolor="black", showgrid=True, gridcolor="black", gridwidth=1,
            griddash="2px,7px", zeroline=False, automargin=False, fixedrange=True)
        layout["yaxis%d" % k] = dict(
            domain=[fy(bot), fy(top)], anchor="x%d" % k, range=[-lim, lim],
            tickmode="array", tickvals=yt, showticklabels=False,
            ticks="inside", ticklen=6, tickwidth=1.2, tickcolor="black",
            mirror="allticks", showline=True, linewidth=1.3, linecolor="black",
            showgrid=False, zeroline=False, automargin=False, fixedrange=True)
        # y tick labels, placed through the y axis scale
        for v in yt:
            annotations.append(txt(fmt(v), fx(213.5), v, 45, yref="y%d" % k, xanchor="right"))
        # x tick labels under the bottom subplot of each panel
        if i == 4:
            for t in X_TICKS:
                annotations.append(txt(str(t), t, fy(bot + 31), 45, xref="x%d" % k))
        annotations.append(txt("SH<sub>%s</sub>" % LABELS[i], fx(75),
                               fy(top + PH / 2), 62, angle=-90))
    base = PANEL_TOP[p] - PANEL_TOP[0]
    annotations.append(txt(X_TITLE, fx((X0 + X1) / 2), fy(1053 + base), 63))
    annotations.append(txt("(<b>%s</b>)" % PANEL_TAGS[p], fx(1064), fy(1165 + base), 64))

layout["annotations"] = annotations
fig.update_layout(**layout)
fig.write_html("out.html")
